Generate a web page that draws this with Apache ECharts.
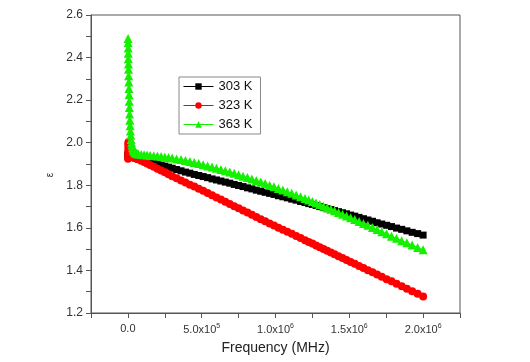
<!DOCTYPE html>
<html>
<head>
<meta charset="utf-8">
<script src="https://cdn.jsdelivr.net/npm/echarts@6/dist/echarts.min.js"></script>
<style>
  html, body { margin: 0; padding: 0; background: #fff; }
  #chart { width: 530px; height: 362px; }
</style>
</head>
<body>
<div id="chart"></div>
<script>
// frequency sweep (Hz), shared by the three temperatures
const freq = [
  1000, 1500, 2000, 2500, 3000, 3500, 4000, 5000, 6000, 7000,
  8000, 9000, 10000, 11500, 13000, 15000, 17000, 19500, 22000, 25000,
  28000, 31500, 35000, 38500, 42000, 46000, 50000, 55000, 60000, 65000,
  70000, 90000, 110000, 130000, 150000, 175000, 200000, 225000, 250000, 275000,
  300000, 330000, 360000, 390000, 420000, 450000, 480000, 510000, 540000, 570000,
  600000, 630000, 660000, 690000, 720000, 750000, 780000, 810000, 840000, 870000,
  900000, 930000, 960000, 990000, 1020000, 1050000, 1080000, 1110000, 1140000, 1170000,
  1200000, 1225000, 1250000, 1275000,
  1300000, 1325000, 1350000, 1375000, 1400000, 1427000, 1454000, 1481000, 1509000, 1537000,
  1566000, 1596000, 1626000, 1657000, 1688000, 1720000, 1753000, 1786000, 1820000, 1855000,
  1890000, 1926000, 1963000, 2000000
];

const eps303 = [
  1.942, 1.942, 1.941, 1.941, 1.940, 1.940, 1.940, 1.939, 1.939, 1.939,
  1.938, 1.938, 1.938, 1.937, 1.937, 1.936, 1.936, 1.935, 1.935, 1.934,
  1.934, 1.933, 1.933, 1.932, 1.932, 1.931, 1.930, 1.929, 1.928, 1.927,
  1.926, 1.922, 1.918, 1.914, 1.910, 1.905, 1.900, 1.895, 1.890, 1.885,
  1.880, 1.874, 1.868, 1.862, 1.857, 1.851, 1.846, 1.841, 1.836, 1.830,
  1.825, 1.820, 1.815, 1.810, 1.804, 1.799, 1.794, 1.788, 1.783, 1.777,
  1.772, 1.767, 1.762, 1.757, 1.751, 1.746, 1.741, 1.735, 1.730, 1.724,
  1.719, 1.714, 1.710, 1.705,
  1.700, 1.695, 1.690, 1.686, 1.681, 1.676, 1.671, 1.666, 1.660, 1.655,
  1.649, 1.643, 1.637, 1.631, 1.624, 1.618, 1.612, 1.606, 1.599, 1.593,
  1.586, 1.579, 1.573, 1.566
];

const eps323 = [
  1.925, 1.935, 1.950, 1.965, 1.980, 1.992, 2.000, 2.003, 1.995, 1.982,
  1.970, 1.960, 1.953, 1.948, 1.944, 1.941, 1.939, 1.937, 1.936, 1.935,
  1.934, 1.933, 1.932, 1.931, 1.930, 1.929, 1.928, 1.927, 1.925, 1.924,
  1.922, 1.915, 1.909, 1.902, 1.895, 1.887, 1.878, 1.869, 1.861, 1.852,
  1.843, 1.833, 1.823, 1.813, 1.803, 1.794, 1.784, 1.774, 1.764, 1.753,
  1.743, 1.733, 1.723, 1.712, 1.702, 1.692, 1.682, 1.672, 1.661, 1.651,
  1.641, 1.631, 1.621, 1.611, 1.601, 1.591, 1.582, 1.572, 1.562, 1.552,
  1.542, 1.534, 1.526, 1.517,
  1.509, 1.501, 1.492, 1.484, 1.476, 1.467, 1.458, 1.449, 1.440, 1.431,
  1.421, 1.411, 1.401, 1.391, 1.381, 1.370, 1.359, 1.349, 1.337, 1.326,
  1.314, 1.302, 1.290, 1.278
];

const eps363 = [
  2.490, 2.470, 2.445, 2.420, 2.395, 2.370, 2.345, 2.315, 2.285, 2.255,
  2.225, 2.195, 2.165, 2.135, 2.105, 2.080, 2.055, 2.035, 2.015, 2.000,
  1.988, 1.978, 1.970, 1.964, 1.960, 1.956, 1.953, 1.951, 1.950, 1.948,
  1.947, 1.945, 1.943, 1.942, 1.940, 1.939, 1.937, 1.935, 1.933, 1.931,
  1.928, 1.924, 1.921, 1.917, 1.912, 1.907, 1.902, 1.897, 1.891, 1.886,
  1.880, 1.874, 1.868, 1.862, 1.856, 1.849, 1.842, 1.836, 1.829, 1.822,
  1.815, 1.808, 1.800, 1.793, 1.785, 1.778, 1.770, 1.762, 1.754, 1.746,
  1.738, 1.731, 1.724, 1.717,
  1.710, 1.702, 1.695, 1.688, 1.680, 1.672, 1.664, 1.656, 1.647, 1.639,
  1.630, 1.621, 1.612, 1.602, 1.592, 1.582, 1.572, 1.561, 1.551, 1.540,
  1.530, 1.519, 1.508, 1.497
];

const seriesNames = ['303 K', '323 K', '363 K'];
const seriesColors = ['#000000', '#ff0000', '#14f000'];
const seriesSymbols = ['rect', 'circle', 'triangle'];
const seriesSizes = [7, 8, 9];

const font = '"Liberation Sans", Arial, sans-serif';

function pairs(values) {
  return freq.map((f, i) => [f, values[i]]);
}

// 0.0, 5.0x10^5, 1.0x10^6 ...
function freqLabel(v) {
  if (v < 0 || v % 500000 !== 0) return '';
  if (v === 0) return '0.0';
  const exp = Math.floor(Math.log10(v));
  const mant = (v / Math.pow(10, exp)).toFixed(1);
  return mant + 'x10{sup|' + exp + '}';
}

const chart = echarts.init(document.getElementById('chart'), null, { renderer: 'canvas' });

const allValues = [eps303, eps323, eps363];

chart.setOption({
  animation: false,
  backgroundColor: '#ffffff',
  grid: {
    left: 91, right: 70, top: 15, bottom: 49,
    show: true,
    borderColor: '#555',
    borderWidth: 1
  },
  legend: {
    orient: 'vertical',
    left: 179,
    top: 77,
    itemWidth: 30,
    itemHeight: 8,
    itemGap: 6,
    padding: [3, 8, 3, 4],
    borderColor: '#888',
    borderWidth: 1,
    lineStyle: { width: 1 },
    textStyle: { fontFamily: font, fontSize: 13, color: '#111' },
    data: seriesNames
  },
  xAxis: {
    type: 'value',
    min: -250000,
    max: 2250000,
    interval: 250000,
    name: 'Frequency (MHz)',
    nameLocation: 'middle',
    nameGap: 28,
    nameTextStyle: { fontFamily: font, fontSize: 14, color: '#222' },
    axisLine: { onZero: false, lineStyle: { color: '#555', width: 1 } },
    axisTick: { inside: false, length: 5, lineStyle: { color: '#555' } },
    splitLine: { show: false },
    axisLabel: {
      fontFamily: font,
      fontSize: 11,
      color: '#333',
      margin: 10,
      formatter: freqLabel,
      rich: {
        sup: { fontSize: 7, verticalAlign: 'top', padding: [0, 0, 6, 0], fontFamily: font, color: '#333' }
      }
    }
  },
  yAxis: {
    type: 'value',
    min: 1.2,
    max: 2.6,
    interval: 0.1,
    name: 'ε',
    nameLocation: 'middle',
    nameRotate: 90,
    nameGap: 35,
    // the symbol sits a little below the middle of the axis
    nameTextStyle: { fontFamily: font, fontSize: 10, color: '#333', padding: [0, 22, 0, 0] },
    axisLine: { onZero: false, lineStyle: { color: '#555', width: 1 } },
    axisTick: { inside: false, length: 5, lineStyle: { color: '#555' } },
    splitLine: { show: false },
    axisLabel: {
      fontFamily: font,
      fontSize: 12,
      color: '#333',
      margin: 8,
      formatter: function (v) {
        return Math.round(v * 10) % 2 === 0 ? v.toFixed(1) : '';
      }
    }
  },
  series: seriesNames.map((name, i) => ({
    name: name,
    type: 'line',
    data: pairs(allValues[i]),
    symbol: seriesSymbols[i],
    symbolSize: seriesSizes[i],
    showSymbol: true,
    showAllSymbol: true,
    itemStyle: { color: seriesColors[i] },
    lineStyle: { color: seriesColors[i], width: 1 },
    z: 2 + i
  }))
});
</script>
</body>
</html>
